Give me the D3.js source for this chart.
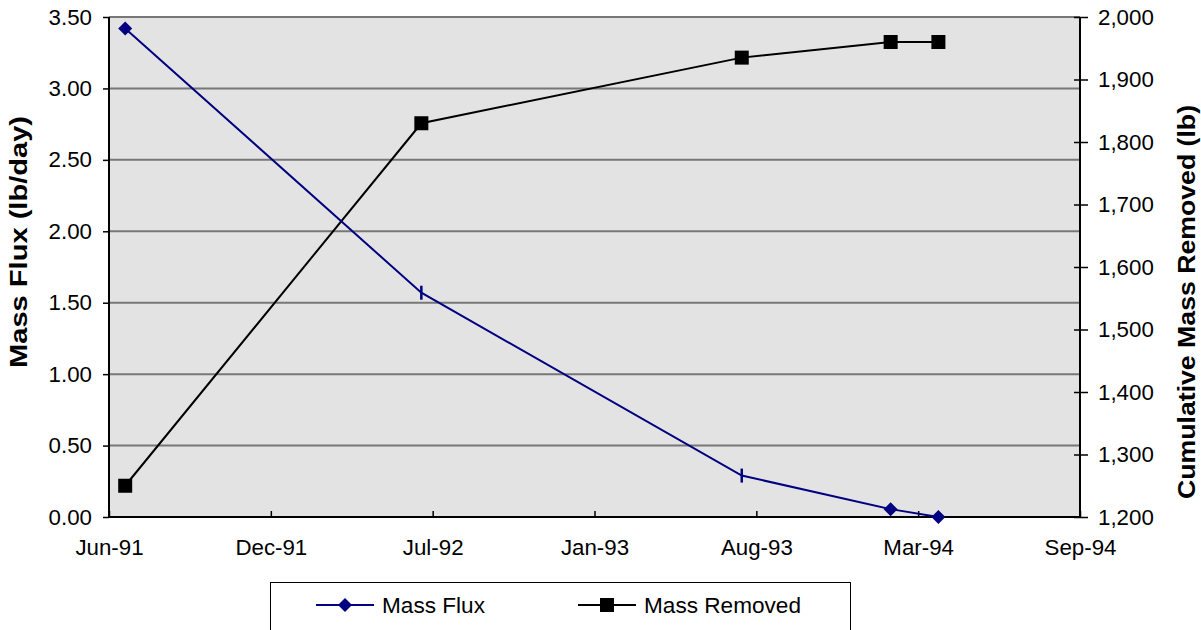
<!DOCTYPE html>
<html><head><meta charset="utf-8">
<script src="https://cdn.jsdelivr.net/npm/d3@7"></script>
<style>body{margin:0;background:#fff}svg{display:block}text{font-family:"Liberation Sans",Arial,sans-serif}</style>
</head><body>
<svg id="c" width="1201" height="630"></svg>
<script>
// ---- data ----
const dates = ["1991-06-30","1992-06-30","1993-07-31","1994-01-31","1994-03-31"];
const massFlux = [3.42, 1.57, 0.29, 0.055, 0.0];
const massRemoved = [1250, 1830, 1935, 1960, 1960];
const xTickLabels = ["Jun-91","Dec-91","Jul-92","Jan-93","Aug-93","Mar-94","Sep-94"];
const leftTicks = [0,0.5,1,1.5,2,2.5,3,3.5];
const rightTicks = [1200,1300,1400,1500,1600,1700,1800,1900,2000];
const seriesNames = ["Mass Flux","Mass Removed"];
const leftTitle = "Mass Flux (lb/day)";
const rightTitle = "Cumulative Mass Removed (lb)";

// ---- layout / style ----
const L=109, R=1080, T=17, B=517;
const dashIdx = new Set([1,2]);
const parse = d3.timeParse("%Y-%m-%d");
const x0 = parse("1991-06-10");
const DAY = 864e5;
const xTicks = xTickLabels.map((_,i)=> new Date(x0.getTime()+i*200*DAY));
const x = d3.scaleTime().domain([x0, xTicks[xTicks.length-1]]).range([L,R]);
const yL = d3.scaleLinear().domain([0,3.5]).range([B,T]);
const yR = d3.scaleLinear().domain([1200,2000]).range([B,T]);

const svg = d3.select("#c");
svg.append("rect").attr("x",L).attr("y",T).attr("width",R-L).attr("height",B-T).attr("fill","#e3e3e3");
// gridlines
svg.append("g").selectAll("line").data(leftTicks.filter(v=>v>0)).join("line")
  .attr("x1",L).attr("x2",R).attr("y1",d=>yL(d)).attr("y2",d=>yL(d))
  .attr("stroke","#777").attr("stroke-width",2);

// left axis
const gl = svg.append("g").attr("transform",`translate(${L},0)`)
  .call(d3.axisLeft(yL).tickValues(leftTicks).tickFormat(d3.format(".2f")).tickSize(6).tickPadding(11));
// right axis
const gr = svg.append("g").attr("transform",`translate(${R},0)`)
  .call(d3.axisRight(yR).tickValues(rightTicks).tickFormat(d3.format(",")).tickSize(8).tickPadding(10));
gr.selectAll(".tick line").attr("x1",-6);
// bottom axis
const gb = svg.append("g").attr("transform",`translate(0,${B})`)
  .call(d3.axisBottom(x).tickValues(xTicks).tickFormat((d,i)=>xTickLabels[i]).tickSize(-6).tickPadding(22));
[gl,gr,gb].forEach(g=>{
  g.select(".domain").attr("stroke","#000").attr("stroke-width",2);
  g.selectAll(".tick line").attr("stroke","#000").attr("stroke-width",1.5);
  g.selectAll("text").attr("font-size",22.3).attr("fill","#000").attr("font-family","Liberation Sans, Arial, sans-serif");
});
gl.select(".domain").attr("d",`M0,${T}V${B}`);
gr.select(".domain").attr("d",`M0,${T}V${B}`);
gb.select(".domain").attr("d",`M${L},0H${R}`);
gb.selectAll("text").attr("dy","0.71em");

// titles
svg.append("text").attr("transform",`translate(27,242) rotate(-90)`).attr("text-anchor","middle")
  .attr("font-size",23.5).attr("font-weight","bold")
  .attr("textLength",252).attr("lengthAdjust","spacingAndGlyphs").text(leftTitle);
svg.append("text").attr("transform",`translate(1195,302) rotate(-90)`).attr("text-anchor","middle")
  .attr("font-size",24).attr("font-weight","bold")
  .attr("textLength",394).attr("lengthAdjust","spacingAndGlyphs").text(rightTitle);

const pts = dates.map((d,i)=>({t:parse(d), f:massFlux[i], m:massRemoved[i], i}));
const NAVY="#000080";
// mass removed line
svg.append("path").datum(pts).attr("fill","none").attr("stroke","#000").attr("stroke-width",2)
  .attr("d",d3.line().x(d=>x(d.t)).y(d=>yR(d.m)));
svg.append("g").selectAll("rect").data(pts).join("rect")
  .attr("x",d=>x(d.t)-7).attr("y",d=>yR(d.m)-7).attr("width",14).attr("height",14).attr("fill","#000");
// mass flux line
svg.append("path").datum(pts).attr("fill","none").attr("stroke",NAVY).attr("stroke-width",2)
  .attr("d",d3.line().x(d=>x(d.t)).y(d=>yL(d.f)));
const diamond = "M0,-7L7,0L0,7L-7,0Z";
svg.append("g").selectAll("path").data(pts.filter(d=>!dashIdx.has(d.i))).join("path")
  .attr("transform",d=>`translate(${x(d.t)},${yL(d.f)})`).attr("d",diamond).attr("fill",NAVY);
svg.append("g").selectAll("line").data(pts.filter(d=>dashIdx.has(d.i))).join("line")
  .attr("x1",d=>x(d.t)).attr("x2",d=>x(d.t)).attr("y1",d=>yL(d.f)-7).attr("y2",d=>yL(d.f)+7)
  .attr("stroke",NAVY).attr("stroke-width",2.5);

// legend
const lg = svg.append("g");
lg.append("rect").attr("x",270.5).attr("y",582.5).attr("width",580).attr("height",60).attr("fill","#fff").attr("stroke","#000").attr("stroke-width",1);
const items=[{x:316,c:NAVY,k:"d"},{x:578,c:"#000",k:"s"}];
items.forEach((it,i)=>{
  const cy=605;
  lg.append("line").attr("x1",it.x).attr("x2",it.x+58).attr("y1",cy).attr("y2",cy).attr("stroke",it.c).attr("stroke-width",2);
  if(it.k==="d") lg.append("path").attr("transform",`translate(${it.x+29},${cy})`).attr("d",diamond).attr("fill",it.c);
  else lg.append("rect").attr("x",it.x+29-7).attr("y",cy-7).attr("width",14).attr("height",14).attr("fill",it.c);
  lg.append("text").attr("x",it.x+66).attr("y",cy+8).attr("font-size",22.6).text(seriesNames[i]);
});
</script>
</body></html>
